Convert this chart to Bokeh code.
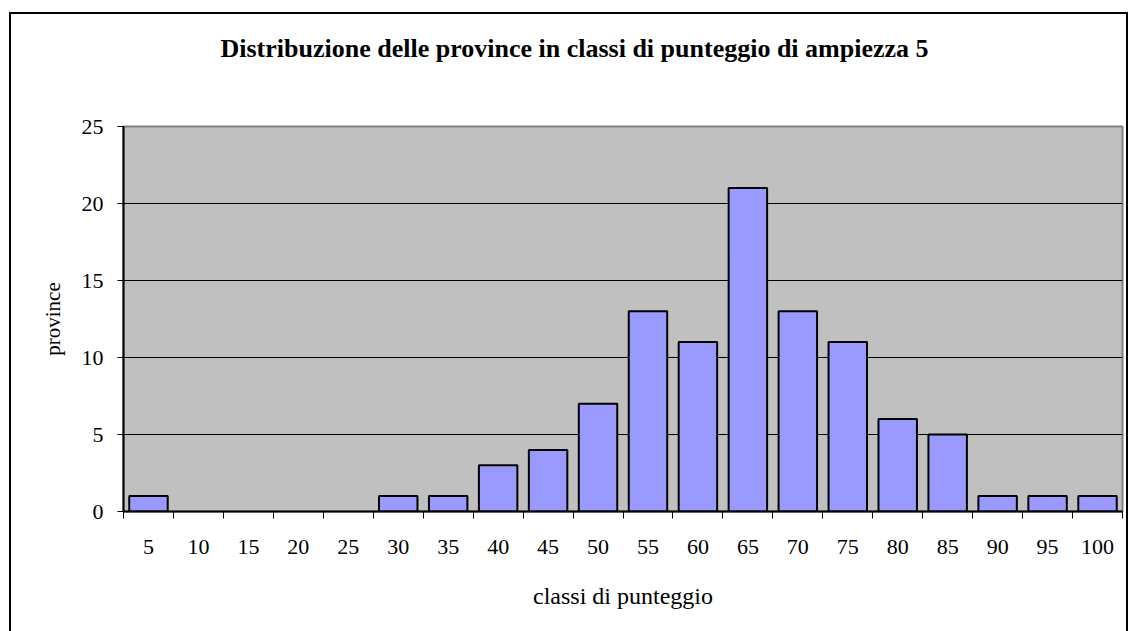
from bokeh.plotting import figure
from bokeh.models import (ColumnDataSource, Range1d, FixedTicker, Title, InlineStyleSheet,
                          CDSView, BooleanFilter)
from bokeh.embed import file_html
from bokeh.resources import INLINE

# ---- data ----
classi = ["5", "10", "15", "20", "25", "30", "35", "40", "45", "50",
          "55", "60", "65", "70", "75", "80", "85", "90", "95", "100"]
province = [1, 0, 0, 0, 0, 1, 1, 3, 4, 7, 13, 11, 21, 13, 11, 6, 5, 1, 1, 1]
y_ticks = [0, 5, 10, 15, 20, 25]

title_text = "Distribuzione delle province in classi di punteggio di ampiezza 5"
x_title = "classi di punteggio"
y_title = "province"

FONT = "Liberation Serif"

# ---- layout geometry (pixels) ----
W, H = 1128, 631
FL, FR, FT, FB = 123, 1122, 126, 511   # frame edges on the canvas

pos = list(range(1, len(classi) + 1))
x0, x1 = 0.5, len(classi) + 0.5
y0, y1 = 0, 25
src = ColumnDataSource(dict(x=pos, top=province, label=classi))
view = CDSView(filter=BooleanFilter([v > 0 for v in province]))

border_css = InlineStyleSheet(css="""
:host::after {
  content: "";
  position: absolute;
  left: 9px;
  top: 12px;
  width: 1119px;
  height: 619px;
  box-sizing: border-box;
  border: 2px solid black;
  border-bottom: none;
  pointer-events: none;
}
""")

p = figure(width=W, height=H, output_backend="svg", toolbar_location=None,
           x_range=Range1d(x0, x1), y_range=Range1d(y0, y1),
           min_border_left=FL, min_border_right=W - FR, min_border_top=FT,
           min_border_bottom=H - FB, title=None)
p.stylesheets = [border_css]
p.background_fill_color = "#C0C0C0"
p.border_fill_color = "white"
p.outline_line_color = "#808080"
p.outline_line_width = 2

p.vbar(x="x", top="top", width=0.77, source=src, view=view,
       fill_color="#9999FF", line_color="black", line_width=2)

# axes
p.xaxis.ticker = FixedTicker(ticks=pos, minor_ticks=[i + 0.5 for i in range(0, len(classi) + 1)])
p.xaxis.major_label_overrides = {i: c for i, c in zip(pos, classi)}
p.xaxis.major_tick_out = 0
p.xaxis.major_tick_in = 0
p.xaxis.minor_tick_out = 7
p.xaxis.minor_tick_in = 0
p.xaxis.minor_tick_line_color = "black"
p.xaxis.minor_tick_line_width = 1
p.xaxis.major_label_standoff = 21
p.xaxis.axis_label = x_title
p.xaxis.axis_label_standoff = 26

p.yaxis.ticker = FixedTicker(ticks=y_ticks, minor_ticks=[])
p.yaxis.major_tick_out = 6
p.yaxis.major_tick_in = 0
p.yaxis.major_tick_line_color = "black"
p.yaxis.major_label_standoff = 14
p.yaxis.axis_label = y_title
p.yaxis.axis_label_standoff = 14

for ax in (p.xaxis, p.yaxis):
    ax.axis_line_color = "black"
    ax.axis_line_width = 2
    ax.major_label_text_font = FONT
    ax.major_label_text_font_size = "22px"
    ax.major_label_text_color = "black"
    ax.axis_label_text_font = FONT
    ax.axis_label_text_font_style = "normal"
    ax.axis_label_text_color = "black"
p.xaxis.axis_label_text_font_size = "24px"
p.yaxis.axis_label_text_font_size = "21px"

p.xgrid.grid_line_color = None
p.ygrid.ticker = FixedTicker(ticks=y_ticks)
p.ygrid.grid_line_color = "black"
p.ygrid.grid_line_width = 1

# spacer between title and plot area, then the title itself
p.add_layout(Title(text=" ", text_font=FONT, text_font_size="10px",
                   standoff=50), "above")
p.add_layout(Title(text=title_text, text_font=FONT, text_font_style="bold",
                   text_font_size="26px", text_color="black",
                   align="left", offset=97, vertical_align="middle", standoff=0),
             "above")

open("out.html", "w").write(file_html(p, INLINE))
